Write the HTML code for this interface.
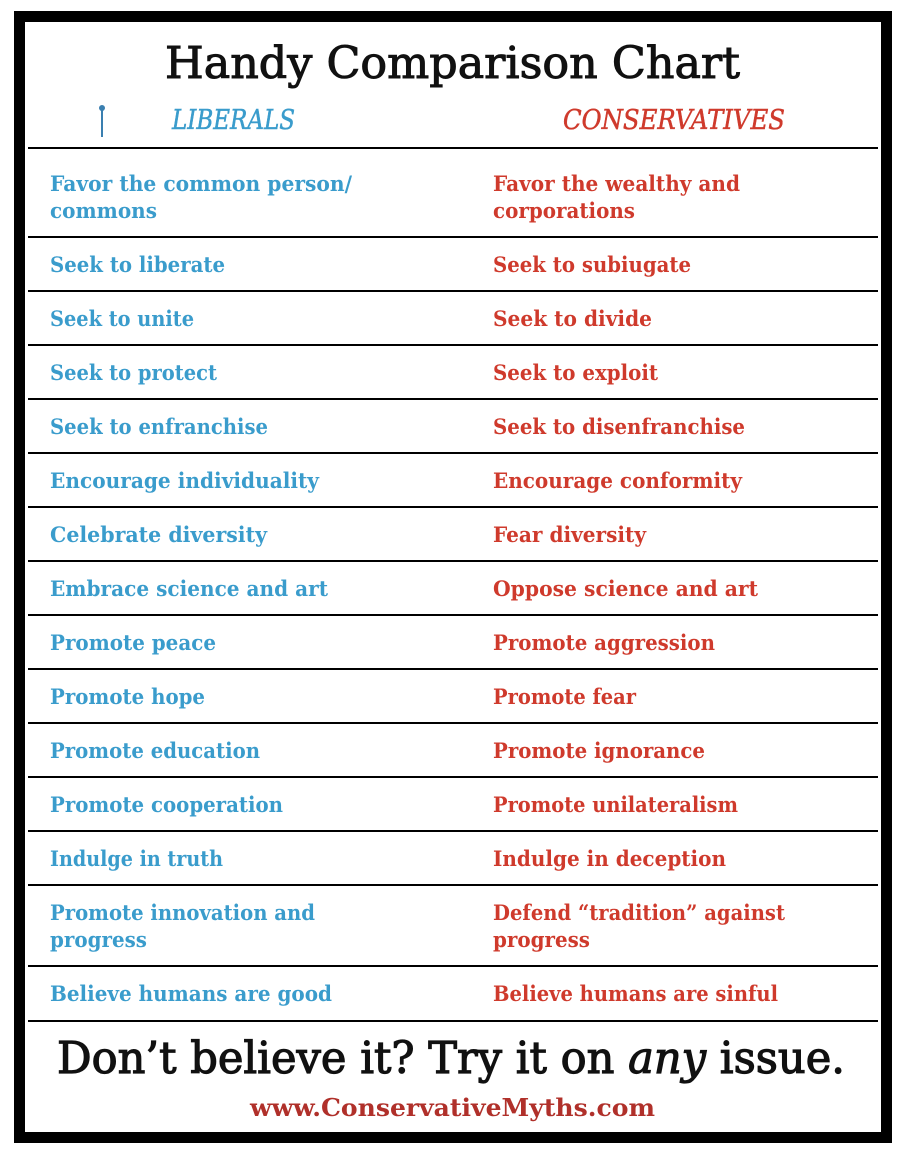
<!DOCTYPE html>
<html><head><meta charset="utf-8"><style>
html,body{margin:0;padding:0;background:#fff;}
svg{display:block;}
.b{fill:#3a9ccc;font-family:"DejaVu Serif","Liberation Serif",serif;font-size:21px;font-weight:bold;}
.r{fill:#cf3a2c;font-family:"DejaVu Serif","Liberation Serif",serif;font-size:21px;font-weight:bold;}
</style></head><body>
<svg width="906" height="1162" xmlns="http://www.w3.org/2000/svg">
<rect x="0" y="0" width="906" height="1162" fill="#fff"/>
<rect x="19.5" y="16.5" width="867" height="1121" fill="none" stroke="#000" stroke-width="11"/>
<text x="165" y="78" textLength="575" lengthAdjust="spacingAndGlyphs" font-family="DejaVu Serif, serif" font-size="44" fill="#111" stroke="#111" stroke-width="1">Handy Comparison Chart</text>
<line x1="102" y1="110" x2="102" y2="137" stroke="#3a7fb0" stroke-width="2"/>
<circle cx="102" cy="108" r="3" fill="#3a7fb0"/>
<text x="172" y="129" textLength="123" lengthAdjust="spacingAndGlyphs" font-family="DejaVu Serif, serif" font-style="italic" font-size="27" fill="#3a9ccc" stroke="#3a9ccc" stroke-width="0.5">LIBERALS</text>
<text x="563" y="129" textLength="222" lengthAdjust="spacingAndGlyphs" font-family="DejaVu Serif, serif" font-style="italic" font-size="27" fill="#cf3a2c" stroke="#cf3a2c" stroke-width="0.5">CONSERVATIVES</text>
<g stroke="#000" stroke-width="2">
<line x1="28" y1="148" x2="878" y2="148"/><line x1="28" y1="237" x2="878" y2="237"/>
<line x1="28" y1="291" x2="878" y2="291"/><line x1="28" y1="345" x2="878" y2="345"/>
<line x1="28" y1="399" x2="878" y2="399"/><line x1="28" y1="453" x2="878" y2="453"/>
<line x1="28" y1="507" x2="878" y2="507"/><line x1="28" y1="561" x2="878" y2="561"/>
<line x1="28" y1="615" x2="878" y2="615"/><line x1="28" y1="669" x2="878" y2="669"/>
<line x1="28" y1="723" x2="878" y2="723"/><line x1="28" y1="777" x2="878" y2="777"/>
<line x1="28" y1="831" x2="878" y2="831"/><line x1="28" y1="885" x2="878" y2="885"/>
<line x1="28" y1="966" x2="878" y2="966"/><line x1="28" y1="1021" x2="878" y2="1021"/>
</g>
<g>
<text class="b" x="50" y="191" textLength="302" lengthAdjust="spacingAndGlyphs">Favor the common person/</text>
<text class="b" x="50" y="218" textLength="107" lengthAdjust="spacingAndGlyphs">commons</text>
<text class="b" x="50" y="272" textLength="175" lengthAdjust="spacingAndGlyphs">Seek to liberate</text>
<text class="b" x="50" y="326" textLength="144" lengthAdjust="spacingAndGlyphs">Seek to unite</text>
<text class="b" x="50" y="380" textLength="167" lengthAdjust="spacingAndGlyphs">Seek to protect</text>
<text class="b" x="50" y="434" textLength="218" lengthAdjust="spacingAndGlyphs">Seek to enfranchise</text>
<text class="b" x="50" y="488" textLength="269" lengthAdjust="spacingAndGlyphs">Encourage individuality</text>
<text class="b" x="50" y="542" textLength="217" lengthAdjust="spacingAndGlyphs">Celebrate diversity</text>
<text class="b" x="50" y="596" textLength="278" lengthAdjust="spacingAndGlyphs">Embrace science and art</text>
<text class="b" x="50" y="650" textLength="166" lengthAdjust="spacingAndGlyphs">Promote peace</text>
<text class="b" x="50" y="704" textLength="155" lengthAdjust="spacingAndGlyphs">Promote hope</text>
<text class="b" x="50" y="758" textLength="210" lengthAdjust="spacingAndGlyphs">Promote education</text>
<text class="b" x="50" y="812" textLength="233" lengthAdjust="spacingAndGlyphs">Promote cooperation</text>
<text class="b" x="50" y="866" textLength="173" lengthAdjust="spacingAndGlyphs">Indulge in truth</text>
<text class="b" x="50" y="920" textLength="265" lengthAdjust="spacingAndGlyphs">Promote innovation and</text>
<text class="b" x="50" y="947" textLength="97" lengthAdjust="spacingAndGlyphs">progress</text>
<text class="b" x="50" y="1001" textLength="282" lengthAdjust="spacingAndGlyphs">Believe humans are good</text>
</g>
<g>
<text class="r" x="493" y="191" textLength="247" lengthAdjust="spacingAndGlyphs">Favor the wealthy and</text>
<text class="r" x="493" y="218" textLength="142" lengthAdjust="spacingAndGlyphs">corporations</text>
<text class="r" x="493" y="272" textLength="198" lengthAdjust="spacingAndGlyphs">Seek to subiugate</text>
<text class="r" x="493" y="326" textLength="159" lengthAdjust="spacingAndGlyphs">Seek to divide</text>
<text class="r" x="493" y="380" textLength="165" lengthAdjust="spacingAndGlyphs">Seek to exploit</text>
<text class="r" x="493" y="434" textLength="252" lengthAdjust="spacingAndGlyphs">Seek to disenfranchise</text>
<text class="r" x="493" y="488" textLength="249" lengthAdjust="spacingAndGlyphs">Encourage conformity</text>
<text class="r" x="493" y="542" textLength="153" lengthAdjust="spacingAndGlyphs">Fear diversity</text>
<text class="r" x="493" y="596" textLength="265" lengthAdjust="spacingAndGlyphs">Oppose science and art</text>
<text class="r" x="493" y="650" textLength="222" lengthAdjust="spacingAndGlyphs">Promote aggression</text>
<text class="r" x="493" y="704" textLength="143" lengthAdjust="spacingAndGlyphs">Promote fear</text>
<text class="r" x="493" y="758" textLength="212" lengthAdjust="spacingAndGlyphs">Promote ignorance</text>
<text class="r" x="493" y="812" textLength="245" lengthAdjust="spacingAndGlyphs">Promote unilateralism</text>
<text class="r" x="493" y="866" textLength="233" lengthAdjust="spacingAndGlyphs">Indulge in deception</text>
<text class="r" x="493" y="920" textLength="292" lengthAdjust="spacingAndGlyphs">Defend “tradition” against</text>
<text class="r" x="493" y="947" textLength="97" lengthAdjust="spacingAndGlyphs">progress</text>
<text class="r" x="493" y="1001" textLength="285" lengthAdjust="spacingAndGlyphs">Believe humans are sinful</text>
</g>
<text x="57" y="1073" textLength="788" lengthAdjust="spacingAndGlyphs" font-family="DejaVu Serif, serif" font-size="44" fill="#111" stroke="#111" stroke-width="1.2">Don’t believe it? Try it on <tspan font-style="italic">any</tspan> issue.</text>
<text x="250" y="1116" textLength="405" lengthAdjust="spacingAndGlyphs" font-family="DejaVu Serif, serif" font-weight="bold" font-size="24" fill="#b0302a">www.ConservativeMyths.com</text>
</svg>
</body></html>
